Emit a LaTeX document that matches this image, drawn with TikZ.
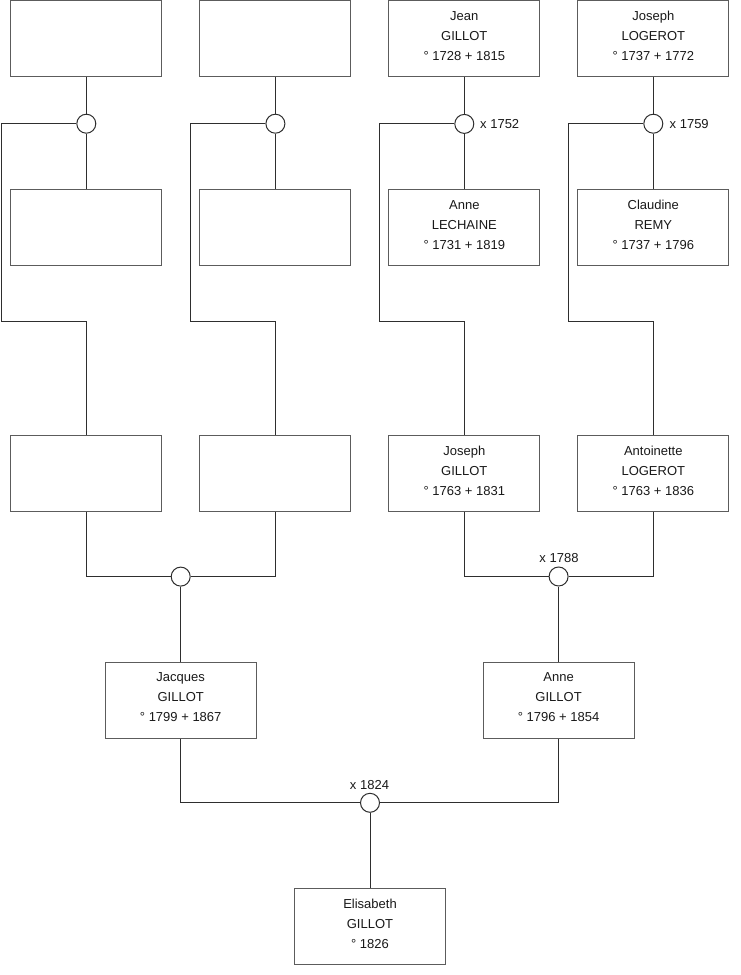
\documentclass[tikz,border=0pt]{standalone}
\usepackage{fontspec}
\setmainfont{Liberation Sans}
\definecolor{boxline}{rgb}{0.36,0.36,0.36}
\definecolor{connline}{rgb}{0.18,0.18,0.18}
\definecolor{txtcol}{rgb}{0.1,0.1,0.1}
\tikzset{
  person/.style={draw=boxline, line width=1pt, minimum width=151pt, minimum height=76pt, inner sep=0pt, fill=white},
  ptext/.style={align=center, inner sep=0pt, text=txtcol, font=\fontsize{13}{20}\selectfont},
  union/.style={circle, draw=connline, line width=1pt, minimum size=19pt, inner sep=0pt, fill=white},
  conn/.style={draw=connline, line width=1pt},
  mlabel/.style={inner sep=0pt, text=txtcol, font=\fontsize{13}{16}\selectfont}
}
\begin{document}
\begin{tikzpicture}[x=1pt,y=-1pt]
\useasboundingbox (0,0) rectangle (740,975);
% generation 1
\node[person] (a1) at (86.3,38.5) {};
\node[person] (b1) at (275.4,38.5) {};
\node[person] (c1) at (464.3,38.5) {};
\node[ptext] (c1t) at ([yshift=2.5pt]c1.center) {Jean\\GILLOT\\° 1728 + 1815};
\node[person] (d1) at (653.3,38.5) {};
\node[ptext] (d1t) at ([yshift=2.5pt]d1.center) {Joseph\\LOGEROT\\° 1737 + 1772};
% generation 1 spouses
\node[person] (a2) at (86.3,227.3) {};
\node[person] (b2) at (275.4,227.3) {};
\node[person] (c2) at (464.3,227.3) {};
\node[ptext] (c2t) at ([yshift=2.5pt]c2.center) {Anne\\LECHAINE\\° 1731 + 1819};
\node[person] (d2) at (653.3,227.3) {};
\node[ptext] (d2t) at ([yshift=2.5pt]d2.center) {Claudine\\REMY\\° 1737 + 1796};
% generation 2
\node[person] (a3) at (86.3,473) {};
\node[person] (b3) at (275.4,473) {};
\node[person] (c3) at (464.3,473) {};
\node[ptext] (c3t) at ([yshift=2.5pt]c3.center) {Joseph\\GILLOT\\° 1763 + 1831};
\node[person] (d3) at (653.3,473) {};
\node[ptext] (d3t) at ([yshift=2.5pt]d3.center) {Antoinette\\LOGEROT\\° 1763 + 1836};
% generation 3
\node[person] (jac) at (180.7,700) {};
\node[ptext] (jact) at ([yshift=2.5pt]jac.center) {Jacques\\GILLOT\\° 1799 + 1867};
\node[person] (ann) at (558.6,700) {};
\node[ptext] (annt) at ([yshift=2.5pt]ann.center) {Anne\\GILLOT\\° 1796 + 1854};
% generation 4
\node[person] (eli) at (370,926) {};
\node[ptext] (elit) at ([yshift=2.5pt]eli.center) {Elisabeth\\GILLOT\\° 1826};
% unions
\node[union] (ua) at (86.3,123.7) {};
\node[union] (ub) at (275.4,123.7) {};
\node[union] (uc) at (464.3,123.9) {};
\node[union] (ud) at (653.3,123.7) {};
\node[union] (u1) at (180.7,576.6) {};
\node[union] (u2) at (558.6,576.5) {};
\node[union] (u3) at (370,802.8) {};
% marriage labels
\node[mlabel, anchor=west] (lc) at (480,123.9) {x 1752};
\node[mlabel, anchor=west] (ld) at (669.5,123.7) {x 1759};
\node[mlabel] (l2) at (559,558) {x 1788};
\node[mlabel] (l3) at (369.5,785.3) {x 1824};
% bend coordinates
\coordinate (ka) at (1.5,321.7);
\coordinate (kb) at (190.5,321.7);
\coordinate (kc) at (379.2,321.7);
\coordinate (kd) at (568.8,321.7);
% connectors generation 1
\foreach \p in {a,b,c,d}{
  \draw[conn] (\p1.south) -- (u\p.north);
  \draw[conn] (u\p.south) -- (\p2.north);
  \draw[conn] (u\p.west) -| (k\p) -| (\p3.north);
}
% connectors generation 2
\draw[conn] (a3.south) |- (u1.west);
\draw[conn] (b3.south) |- (u1.east);
\draw[conn] (u1.south) -- (jac.north);
\draw[conn] (c3.south) |- (u2.west);
\draw[conn] (d3.south) |- (u2.east);
\draw[conn] (u2.south) -- (ann.north);
% connectors generation 3
\draw[conn] (jac.south) |- (u3.west);
\draw[conn] (ann.south) |- (u3.east);
\draw[conn] (u3.south) -- (eli.north);
\end{tikzpicture}
\end{document}
